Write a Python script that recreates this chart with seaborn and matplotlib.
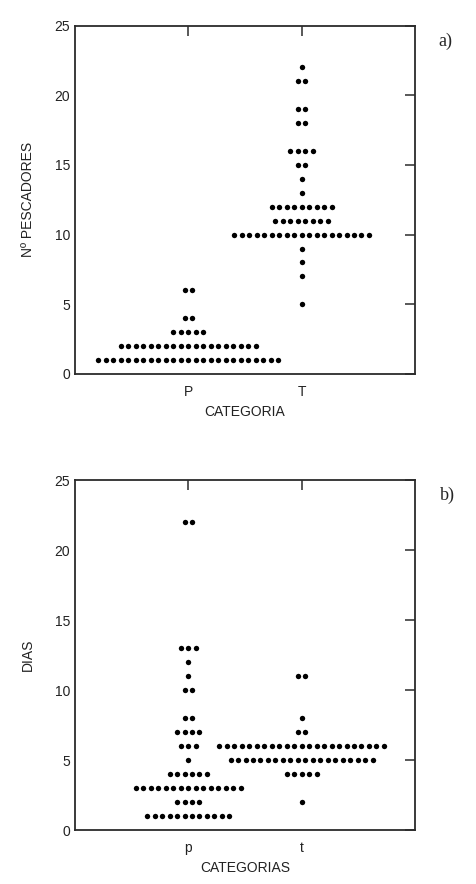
import numpy as np
import pandas as pd
import matplotlib
matplotlib.use("Agg")
import matplotlib.pyplot as plt
import seaborn as sns

# --- DONNEES ---
# a) Nº de pescadores par catégorie : valeur -> nombre de points
CAT_A = ["P", "T"]
PESC_P_VALORES = [1, 2, 3, 4, 6]
PESC_P_CONTAGEM = [25, 19, 5, 2, 2]
PESC_T_VALORES = [5, 7, 8, 9, 10, 11, 12, 13, 14, 15, 16, 18, 19, 21, 22]
PESC_T_CONTAGEM = [1, 1, 1, 1, 19, 8, 9, 1, 1, 2, 4, 2, 2, 2, 1]

# b) Dias par catégorie
CAT_B = ["p", "t"]
DIAS_P_VALORES = [1, 2, 3, 4, 5, 6, 7, 8, 10, 11, 12, 13, 22]
DIAS_P_CONTAGEM = [12, 4, 15, 6, 1, 3, 4, 2, 2, 1, 1, 3, 2]
DIAS_T_VALORES = [2, 4, 5, 6, 7, 8, 11]
DIAS_T_CONTAGEM = [1, 5, 20, 23, 2, 1, 2]

Y_TICKS = [0, 5, 10, 15, 20, 25]
DOT_STEP = 0.066  # écart horizontal entre deux points d'une même ligne (unités x)
INK = "#2b2b2b"


def dot_table(valores_par_cat, contagens_par_cat):
    # construit un dot plot centré : chaque ligne de n points est centrée sur la catégorie
    rows = []
    for pos, (valores, contagem) in enumerate(zip(valores_par_cat, contagens_par_cat)):
        for v, n in zip(valores, contagem):
            for k in range(n):
                rows.append({"x": pos + (k - (n - 1) / 2) * DOT_STEP, "y": v})
    return pd.DataFrame(rows)


def draw_panel(ax, df, cats, ylabel, xlabel):
    sns.scatterplot(data=df, x="x", y="y", ax=ax, color="black", s=15,
                    linewidth=0, marker="o", legend=False, clip_on=False)
    ax.set_xlim(-1, 2)
    ax.set_ylim(0, 25)
    ax.set_xticks(range(len(cats)), cats)
    ax.set_yticks(Y_TICKS)
    ax.tick_params(direction="in", length=7, width=1.1, color=INK,
                   top=True, right=True, labelsize=10, labelcolor="#222222")
    ax.tick_params(axis="x", pad=8)
    for sp in ax.spines.values():
        sp.set_visible(True)
        sp.set_linewidth(1.3)
        sp.set_color(INK)
    ax.set_ylabel(ylabel, fontsize=10, color="#222222", labelpad=14)
    ax.set_xlabel(xlabel, fontsize=10, color="#222222", labelpad=4)


sns.set_style("white")
plt.rcParams["font.family"] = ["Liberation Sans", "DejaVu Sans"]

fig = plt.figure(figsize=(4.77, 8.84), dpi=100)
ax_a = fig.add_axes([0.157, 0.577, 0.713, 0.394])
ax_b = fig.add_axes([0.157, 0.061, 0.713, 0.396])

df_a = dot_table([PESC_P_VALORES, PESC_T_VALORES], [PESC_P_CONTAGEM, PESC_T_CONTAGEM])
df_b = dot_table([DIAS_P_VALORES, DIAS_T_VALORES], [DIAS_P_CONTAGEM, DIAS_T_CONTAGEM])

draw_panel(ax_a, df_a, CAT_A, "Nº PESCADORES", "CATEGORIA")
draw_panel(ax_b, df_b, CAT_B, "DIAS", "CATEGORIAS")

fig.text(0.918, 0.948, "a)", family=["Liberation Serif", "DejaVu Serif"], fontsize=13)
fig.text(0.922, 0.434, "b)", family=["Liberation Serif", "DejaVu Serif"], fontsize=13)

fig.savefig("out.png", dpi=100)
